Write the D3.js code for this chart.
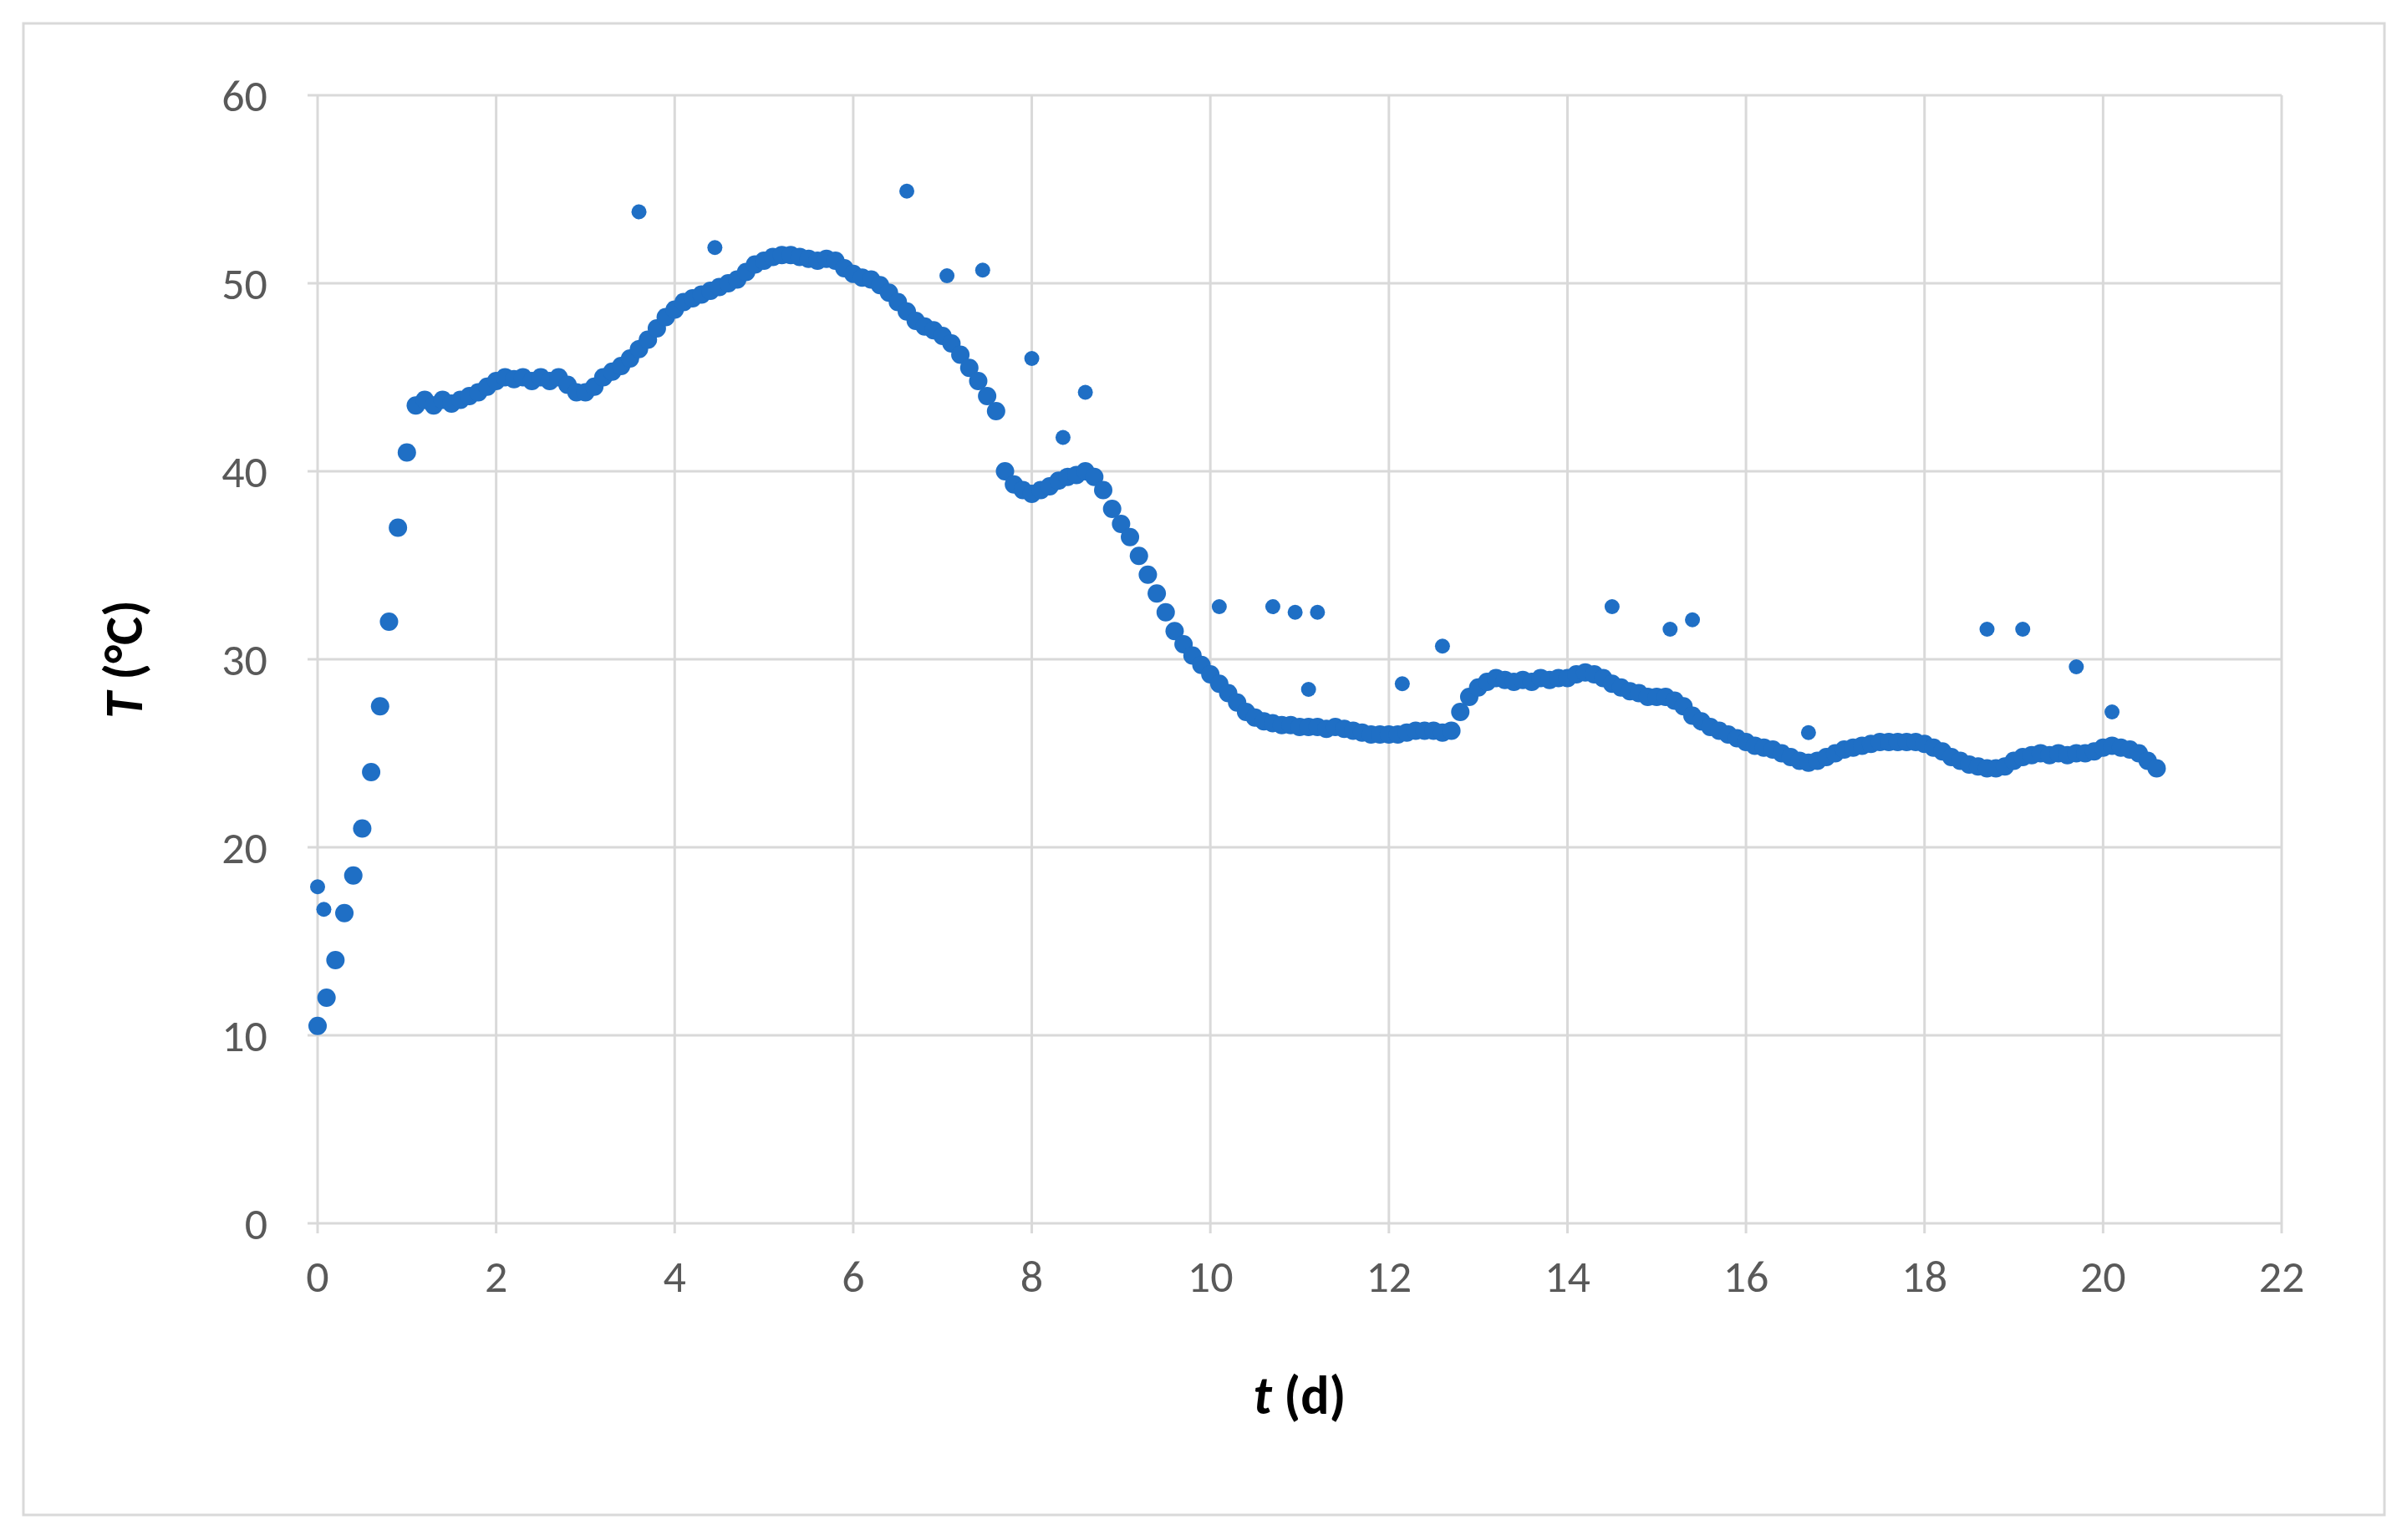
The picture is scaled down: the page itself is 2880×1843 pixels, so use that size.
<!DOCTYPE html>
<html><head><meta charset="utf-8">
<script src="https://cdn.jsdelivr.net/npm/d3@7"></script>
<style>body{margin:0;background:#fff}svg{display:block}</style>
</head><body>
<script>
// measured series, one value per 0.1 d starting at t = 0
var tStep = 0.1;
var tempMain = [10.5,12,14,16.5,18.5,21,24,27.5,32,37,
  41,43.5,43.8,43.5,43.8,43.6,43.8,44,44.2,44.5,
  44.8,45,44.9,45,44.8,45,44.8,45,44.6,44.2,
  44.2,44.5,45,45.3,45.6,46,46.5,47,47.6,48.2,
  48.6,49,49.2,49.4,49.6,49.8,50,50.2,50.6,51,
  51.2,51.4,51.5,51.5,51.4,51.3,51.2,51.3,51.2,50.8,
  50.5,50.3,50.2,49.9,49.5,49,48.5,48,47.7,47.5,
  47.2,46.8,46.2,45.5,44.8,44,43.2,40,39.3,39,
  38.8,39,39.2,39.5,39.7,39.8,40,39.7,39,38,
  37.2,36.5,35.5,34.5,33.5,32.5,31.5,30.8,30.2,29.7,
  29.2,28.7,28.2,27.7,27.2,26.9,26.7,26.6,26.5,26.5,
  26.4,26.4,26.4,26.3,26.4,26.3,26.2,26.1,26,26,
  26,26,26.1,26.2,26.2,26.2,26.1,26.2,27.2,28,
  28.5,28.8,29,28.9,28.8,28.9,28.8,29,28.9,29,
  29,29.2,29.3,29.2,29,28.7,28.5,28.3,28.2,28,
  28,28,27.8,27.5,27,26.7,26.4,26.2,26,25.8,
  25.6,25.4,25.3,25.2,25,24.8,24.6,24.5,24.6,24.8,
  25,25.2,25.3,25.4,25.5,25.6,25.6,25.6,25.6,25.6,
  25.5,25.3,25.1,24.8,24.6,24.4,24.3,24.2,24.2,24.3,
  24.6,24.8,24.9,25,24.9,25,24.9,25,25,25.1,
  25.3,25.4,25.3,25.2,25,24.6,24.2];
// isolated readings
var outT = [0,0.07,3.6,4.45,6.6,7.05,7.45,8.0,8.35,8.6,10.1,10.7,10.95,11.1,11.2,12.15,12.6,14.5,15.15,15.4,16.7,18.7,19.1,19.7,20.1];
var outV = [17.9,16.7,53.8,51.9,54.9,50.4,50.7,46,41.8,44.2,32.8,32.8,32.5,28.4,32.5,28.7,30.7,32.8,31.6,32.1,26.1,31.6,31.6,29.6,27.2];
var xTicks = d3.range(0, 23, 2);
var yTicks = d3.range(0, 61, 10);

var W = 2880, H = 1843;
var svg = d3.select("body").append("svg").attr("width", W).attr("height", H)
    .style("font-family", "Carlito, 'Open Sans', sans-serif");
svg.append("rect").attr("x", 28).attr("y", 28).attr("width", 2825).attr("height", 1785)
    .attr("fill", "#fff").attr("stroke", "#d9d9d9").attr("stroke-width", 3);

var x = d3.scaleLinear().domain([0, 22]).range([380, 2730]);
var y = d3.scaleLinear().domain([0, 60]).range([1464, 114]);

// grid
svg.append("g").selectAll("line").data(yTicks).enter().append("line")
    .attr("x1", x(0) - 12).attr("x2", x(22)).attr("y1", d => y(d)).attr("y2", d => y(d))
    .attr("stroke", "#d9d9d9").attr("stroke-width", 3);
svg.append("g").selectAll("line").data(xTicks).enter().append("line")
    .attr("x1", d => x(d)).attr("x2", d => x(d)).attr("y1", y(60)).attr("y2", y(0) + 12)
    .attr("stroke", "#d9d9d9").attr("stroke-width", 3);

// tick labels
svg.append("g").selectAll("text").data(yTicks).enter().append("text")
    .attr("x", x(0) - 60).attr("y", d => y(d)).attr("dy", "0.35em")
    .attr("text-anchor", "end").attr("font-size", 54).attr("fill", "#595959").text(d => d);
svg.append("g").selectAll("text").data(xTicks).enter().append("text")
    .attr("x", d => x(d)).attr("y", y(0) + 82)
    .attr("text-anchor", "middle").attr("font-size", 54).attr("fill", "#595959").text(d => d);

// axis titles
var xt = svg.append("text").attr("x", x(11)).attr("y", 1692).attr("text-anchor", "middle")
    .attr("font-size", 64).attr("font-weight", "bold").attr("fill", "#000");
xt.append("tspan").attr("font-style", "italic").text("t");
xt.append("tspan").text(" (d)");
var yt = svg.append("text").attr("transform", "translate(170," + y(30) + ") rotate(-90)")
    .attr("text-anchor", "middle").attr("font-size", 64).attr("font-weight", "bold").attr("fill", "#000");
yt.append("tspan").attr("font-style", "italic").text("T");
yt.append("tspan").text(" (°C)");

var blue = "#1f6fc5";
svg.append("g").selectAll("circle").data(tempMain).enter().append("circle")
    .attr("cx", (d, i) => x(i * tStep)).attr("cy", d => y(d)).attr("r", 11).attr("fill", blue);
svg.append("g").selectAll("circle").data(outV).enter().append("circle")
    .attr("cx", (d, i) => x(outT[i])).attr("cy", d => y(d)).attr("r", 9).attr("fill", blue);
</script>
</body></html>
